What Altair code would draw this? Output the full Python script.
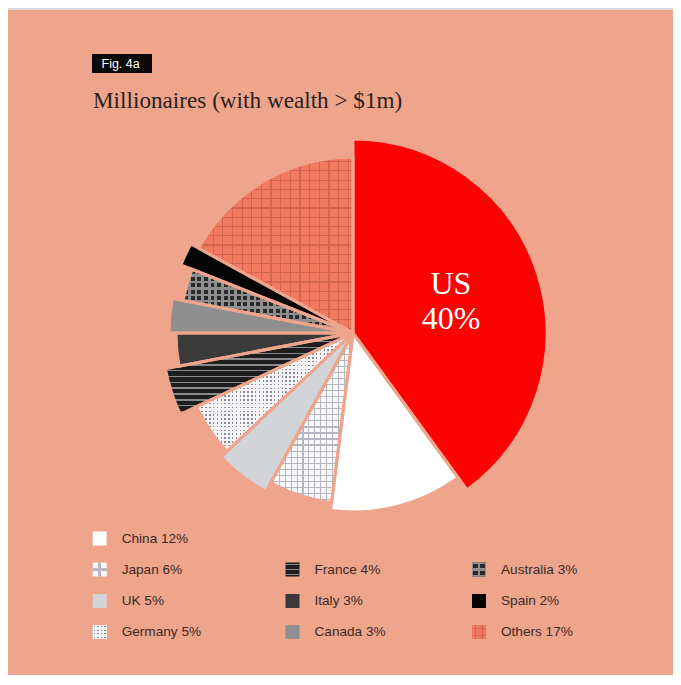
import math
import altair as alt
import pandas as pd

# ---------------- data ----------------
countries = ["US", "China", "Japan", "UK", "Germany", "France", "Italy",
             "Canada", "Australia", "Spain", "Others"]
shares = [40, 12, 6, 5, 5, 4, 3, 3, 3, 2, 17]
title_text = "Millionaires (with wealth > $1m)"
fig_label = "Fig. 4a"

df = pd.DataFrame({"country": countries, "share": shares,
                   "order": list(range(len(countries)))})

# ---------------- style ----------------
BG = "#efa48c"
FRAME = "#d9d9d9"
CLEAR = "rgba(0,0,0,0)"
TEXT = "#3a2a26"
CX, CY = 345, 325          # pie centre (chart coordinates)

OUTER_R = {"US": 194, "China": 179, "Japan": 171, "UK": 181, "Germany": 173,
           "France": 191, "Italy": 177, "Canada": 184, "Australia": 173,
           "Spain": 185, "Others": 176}

# base colour, overlay stripe layers (direction, bg, line, spacing px, duty), swatch spacing
PATTERNS = {
    "US": ("#fb0303", [], None),
    "China": ("#ffffff", [], None),
    "Japan": ("#f8f8fb", [("h", CLEAR, "#b6b6c0", 6.0, 0.2),
                          ("v", CLEAR, "#b6b6c0", 6.0, 0.2)], 14),
    "UK": ("#d3d4d7", [], None),
    "Germany": ("#8a8a94", [("h", "#f4f4f7", CLEAR, 3.8, 0.4),
                            ("v", "#f4f4f7", CLEAR, 3.8, 0.4)], 3.5),
    "France": ("#1e1e1e", [("h", CLEAR, "#8a8a8a", 6.0, 0.25)], 4.7),
    "Italy": ("#3a3a3a", [], None),
    "Canada": ("#8f8f8f", [], None),
    "Australia": ("#2a2a2a", [("h", "#8e8e8e", CLEAR, 6.5, 0.6),
                              ("v", "#8e8e8e", CLEAR, 6.5, 0.6)], 7),
    "Spain": ("#050505", [], None),
    "Others": ("#f27a60", [("h", CLEAR, "#d3644f", 9.5, 0.13),
                           ("v", CLEAR, "#d3644f", 9.5, 0.13)], 7),
}

LEGEND_SLOT = {"China": (0, 0), "Japan": (0, 1), "UK": (0, 2), "Germany": (0, 3),
               "France": (1, 1), "Italy": (1, 2), "Canada": (1, 3),
               "Australia": (2, 1), "Spain": (2, 2), "Others": (2, 3)}
LEG_X = [91.7, 284.5, 471.0]
LEG_Y = [530.5, 561.5, 593.0, 624.0]
SWATCH = 14


def stripe_gradient(direction, bg, line, spacing, duty, extent):
    n = max(1, int(round(extent / spacing)))
    p = 1.0 / n
    stops = []
    for k in range(n):
        a = k * p
        l0 = a + (0.5 - duty / 2) * p
        l1 = a + (0.5 + duty / 2) * p
        stops += [(a, bg), (l0, bg), (l0, line), (l1, line), (l1, bg), (a + p, bg)]
    stops = [{"offset": min(1.0, max(0.0, round(o, 5))), "color": c} for o, c in stops]
    if direction == "h":
        return {"gradient": "linear", "x1": 0, "y1": 0, "x2": 0, "y2": 1, "stops": stops}
    return {"gradient": "linear", "x1": 0, "y1": 0, "x2": 1, "y2": 0, "stops": stops}


def wedge_extent(a0, a1, r):
    pts = [(0.0, 0.0)]
    for a in (a0, a1):
        pts.append((r * math.sin(a), -r * math.cos(a)))
    for k in range(5):
        a = k * math.pi / 2
        if a0 < a < a1:
            pts.append((r * math.sin(a), -r * math.cos(a)))
    xs = [p[0] for p in pts]
    ys = [p[1] for p in pts]
    return max(xs) - min(xs), max(ys) - min(ys)


# angular extents (for sizing the pattern stripes only)
total = float(sum(shares))
angles = {}
acc = 0.0
for c, s in zip(countries, shares):
    angles[c] = (2 * math.pi * acc / total, 2 * math.pi * (acc + s) / total)
    acc += s

theta_scale = alt.Scale(domain=[0, 100], range=[0, 2 * math.pi])

base = (
    alt.Chart(df)
    .transform_window(end="sum(share)", sort=[alt.SortField("order")], frame=[None, 0])
    .transform_calculate(start="datum.end - datum.share",
                         mid="datum.end - datum.share / 2")
)


def arc_layer(c, **mark):
    return (
        base.transform_filter(alt.datum.country == c)
        .mark_arc(outerRadius=OUTER_R[c], **mark)
        .encode(theta=alt.Theta("start:Q", scale=theta_scale),
                theta2=alt.Theta2("end:Q"),
                x=alt.value(CX), y=alt.value(CY))
    )


layers = []

# frame strip at the top
one = pd.DataFrame({"k": [0]})
layers.append(alt.Chart(one).mark_rect(color=FRAME).encode(
    x=alt.value(0), x2=alt.value(665), y=alt.value(0), y2=alt.value(2)))

# slice fills
for c in countries:
    col, overlays, _ = PATTERNS[c]
    layers.append(arc_layer(c, fill=col, strokeWidth=0))
    w, h = wedge_extent(angles[c][0], angles[c][1], OUTER_R[c])
    for (d, bgc, line, sp, duty) in overlays:
        ext = h if d == "h" else w
        layers.append(arc_layer(c, fill=stripe_gradient(d, bgc, line, sp, duty, ext),
                                strokeWidth=0))

# slice separators
for c in countries:
    layers.append(arc_layer(c, filled=False, stroke=BG, strokeWidth=3))

# US label
layers.append(
    base.transform_filter(alt.datum.country == "US")
    .transform_calculate(label="datum.country + '\\n' + datum.share + '%'")
    .mark_text(radius=103, dy=-17, font="Liberation Serif", fontSize=32, lineHeight=35,
               color="white", align="center", baseline="middle", lineBreak="\n")
    .encode(theta=alt.Theta("mid:Q", scale=theta_scale), text="label:N",
            x=alt.value(CX), y=alt.value(CY))
)

# legend
leg = pd.DataFrame({"country": list(LEGEND_SLOT.keys()),
                    "col": [v[0] for v in LEGEND_SLOT.values()],
                    "row": [v[1] for v in LEGEND_SLOT.values()]})
leg = leg.merge(df, on="country")
leg_x = alt.X("col:Q", scale=alt.Scale(domain=[0, 1, 2], range=LEG_X), axis=None)
leg_y = alt.Y("row:Q", scale=alt.Scale(domain=[0, 1, 2, 3], range=LEG_Y), axis=None)
leg_base = alt.Chart(leg)

for c in LEGEND_SLOT:
    col, overlays, sw = PATTERNS[c]
    layers.append(leg_base.transform_filter(alt.datum.country == c)
                  .mark_square(size=SWATCH * SWATCH, fill=col, opacity=1, strokeWidth=0)
                  .encode(x=leg_x, y=leg_y))
    for (d, bgc, line, sp, duty) in overlays:
        layers.append(leg_base.transform_filter(alt.datum.country == c)
                      .mark_square(size=SWATCH * SWATCH, opacity=1, strokeWidth=0,
                                   fill=stripe_gradient(d, bgc, line, sw, duty, SWATCH))
                      .encode(x=leg_x, y=leg_y))

layers.append(
    leg_base.transform_calculate(label="datum.country + ' ' + datum.share + '%'")
    .mark_text(align="left", baseline="middle", dx=22, font="Liberation Sans",
               fontSize=13.6, color=TEXT)
    .encode(x=leg_x, y=leg_y, text="label:N")
)

# header
layers.append(alt.Chart(one).mark_rect(color="#0a0a0a").encode(
    x=alt.value(84), x2=alt.value(144), y=alt.value(46), y2=alt.value(65)))
layers.append(alt.Chart(pd.DataFrame({"t": [fig_label]})).mark_text(
    align="left", baseline="middle", font="Liberation Sans", fontSize=12.5, color="white"
).encode(text="t:N", x=alt.value(93.5), y=alt.value(56)))
layers.append(alt.Chart(pd.DataFrame({"t": [title_text]})).mark_text(
    align="left", baseline="alphabetic", font="Liberation Serif", fontSize=23.2, color="#2b1f1c"
).encode(text="t:N", x=alt.value(85), y=alt.value(99.5)))

chart = (
    alt.layer(*layers)
    .properties(width=665, height=667, padding=0,
                autosize=alt.AutoSizeParams(type="none"), background=BG)
    .configure_view(stroke=None)
)

chart.save("out.html", embed_options={"renderer": "svg", "actions": False})
